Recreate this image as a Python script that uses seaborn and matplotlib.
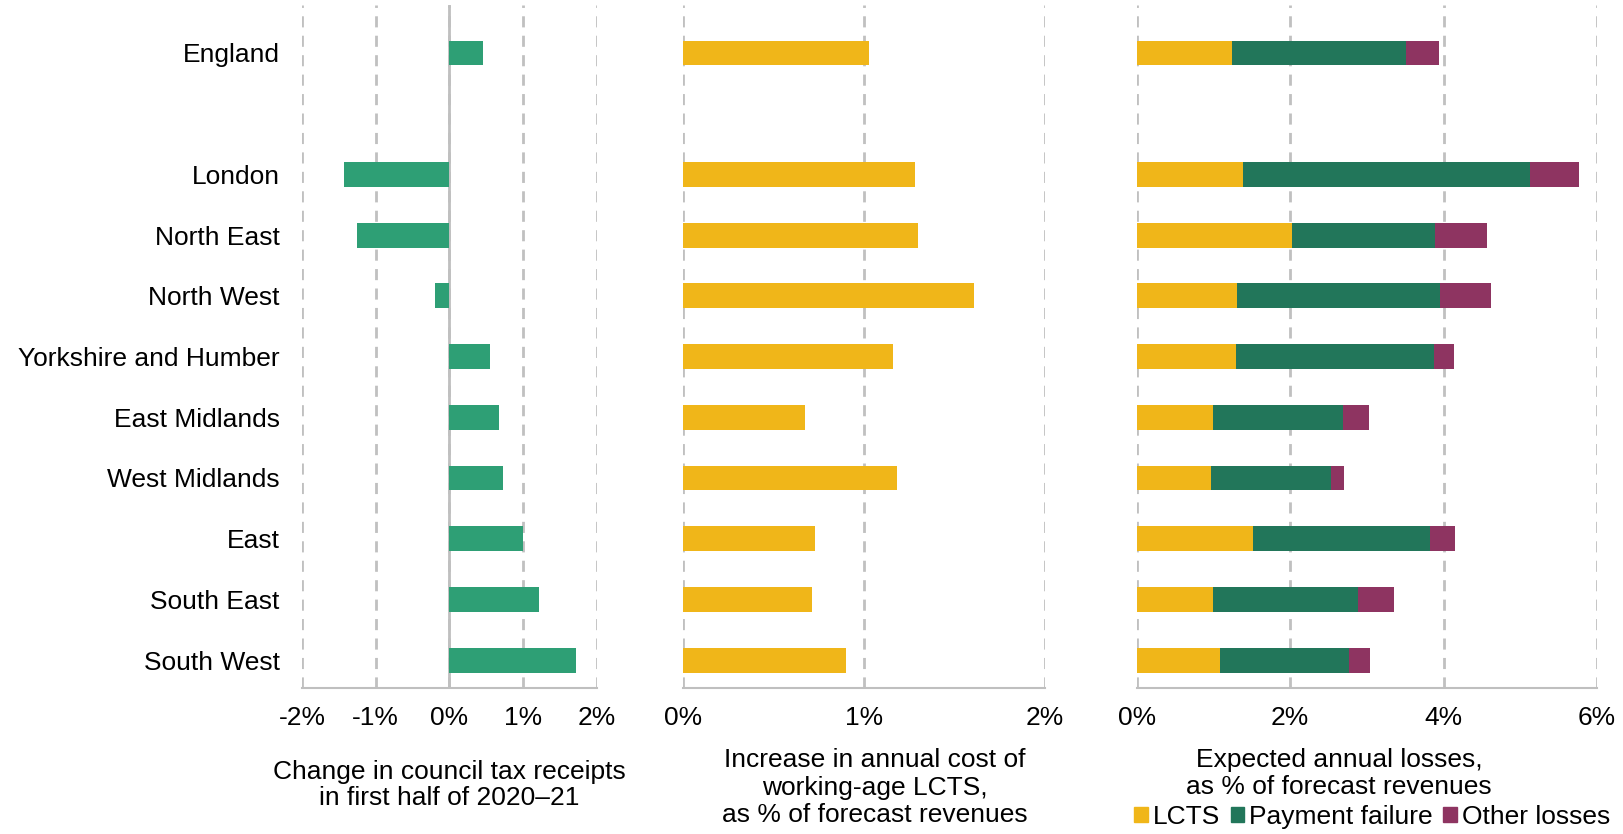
import numpy as np
import pandas as pd
import seaborn as sns
from matplotlib import pyplot as plt
from matplotlib.patches import Patch
from matplotlib.ticker import FuncFormatter, MultipleLocator

# blank entry keeps the gap between England and the regions
regions = ["England", " ", "London", "North East", "North West", "Yorkshire and Humber",
           "East Midlands", "West Midlands", "East", "South East", "South West"]
receipts_change = [0.45, np.nan, -1.43, -1.25, -0.20, 0.55, 0.67, 0.72, 1.00, 1.22, 1.72]
lcts_cost = [1.03, np.nan, 1.28, 1.30, 1.61, 1.16, 0.675, 1.18, 0.73, 0.71, 0.90]
loss_lcts = [1.24, np.nan, 1.39, 2.02, 1.31, 1.29, 1.00, 0.97, 1.52, 0.99, 1.09]
loss_payment = [2.27, np.nan, 3.74, 1.87, 2.64, 2.58, 1.69, 1.56, 2.30, 1.90, 1.68]
loss_other = [0.43, np.nan, 0.63, 0.68, 0.67, 0.27, 0.34, 0.17, 0.33, 0.47, 0.27]

GREEN = '#2E9F75'
YELLOW = '#F0B619'
DKGREEN = '#22765A'
PURPLE = '#8E3461'
GREY = '#BFBFBF'

df = pd.DataFrame({'region': regions, 'receipts': receipts_change, 'cost': lcts_cost,
                   'lcts': loss_lcts, 'payment': loss_payment, 'other': loss_other})
df['lcts_pay'] = df.lcts + df.payment
df['total'] = df.lcts_pay + df.other

sns.set_style('white')
plt.rcParams['font.family'] = ['Liberation Sans', 'DejaVu Sans']
plt.rcParams['font.size'] = 19
plt.rcParams['text.color'] = 'black'
plt.rcParams['xtick.color'] = 'black'
plt.rcParams['ytick.color'] = 'black'
plt.rcParams['axes.labelcolor'] = 'black'

fig = plt.figure(figsize=(16.23, 8.34), dpi=100)
ax1 = fig.add_axes([0.1861, 0.175, 0.1817, 0.819])
ax2 = fig.add_axes([0.4208, 0.175, 0.2231, 0.819])
ax3 = fig.add_axes([0.7003, 0.175, 0.2837, 0.819])

kw = dict(y='region', order=regions, width=0.41, saturation=1, errorbar=None, linewidth=0)
sns.barplot(data=df, x='receipts', color=GREEN, ax=ax1, **kw)
sns.barplot(data=df, x='cost', color=YELLOW, ax=ax2, **kw)
# stacked bars: draw cumulative totals on top of each other
sns.barplot(data=df, x='total', color=PURPLE, ax=ax3, **kw)
sns.barplot(data=df, x='lcts_pay', color=DKGREEN, ax=ax3, **kw)
sns.barplot(data=df, x='lcts', color=YELLOW, ax=ax3, **kw)

pct = FuncFormatter(lambda v, p: f"{v:.0f}%")
for ax, lo, hi, step in [(ax1, -2, 2, 1), (ax2, 0, 2, 1), (ax3, 0, 6, 2)]:
    ax.set_xlim(lo, hi)
    ax.xaxis.set_major_locator(MultipleLocator(step))
    ax.xaxis.set_major_formatter(pct)
    ax.set_ylim(10.46, -0.79)
    ax.grid(axis='x', color='#C0C0C0', linestyle=(0, (4, 3)), linewidth=2)
    ax.grid(axis='y', visible=False)
    ax.set_axisbelow(True)
    for s in ['top', 'right', 'left']:
        ax.spines[s].set_visible(False)
    ax.spines['bottom'].set_color(GREY)
    ax.spines['bottom'].set_linewidth(1.5)
    ax.tick_params(axis='x', length=5, color=GREY, width=1.5, labelcolor='black', pad=8, labelsize=19)
    ax.tick_params(axis='y', length=0, pad=16, labelcolor='black', labelsize=19)
    ax.set_ylabel('')

ax1.axvline(0, color=GREY, lw=2, zorder=0.5)
ax2.set_yticklabels([])
ax3.set_yticklabels([])

ax1.set_xlabel('Change in council tax receipts\nin first half of 2020\u201321', linespacing=1.1)
ax1.xaxis.set_label_coords(0.5, -0.106)
ax2.set_xlabel('Increase in annual cost of\nworking-age LCTS,\nas % of forecast revenues', linespacing=1.18)
ax2.xaxis.set_label_coords(0.53, -0.088)
ax3.set_xlabel('Expected annual losses,\nas % of forecast revenues', linespacing=1.15)
ax3.xaxis.set_label_coords(0.44, -0.088)

handles = [Patch(color=YELLOW, label='LCTS'), Patch(color=DKGREEN, label='Payment failure'),
           Patch(color=PURPLE, label='Other losses')]
fig.legend(handles=handles, loc='center left', bbox_to_anchor=(0.699, 0.02), ncol=3,
           frameon=False, handlelength=0.5, handleheight=0.5, handletextpad=0.2,
           columnspacing=0.4, borderpad=0, borderaxespad=0, fontsize=19)

fig.savefig('out.png', dpi=100)
